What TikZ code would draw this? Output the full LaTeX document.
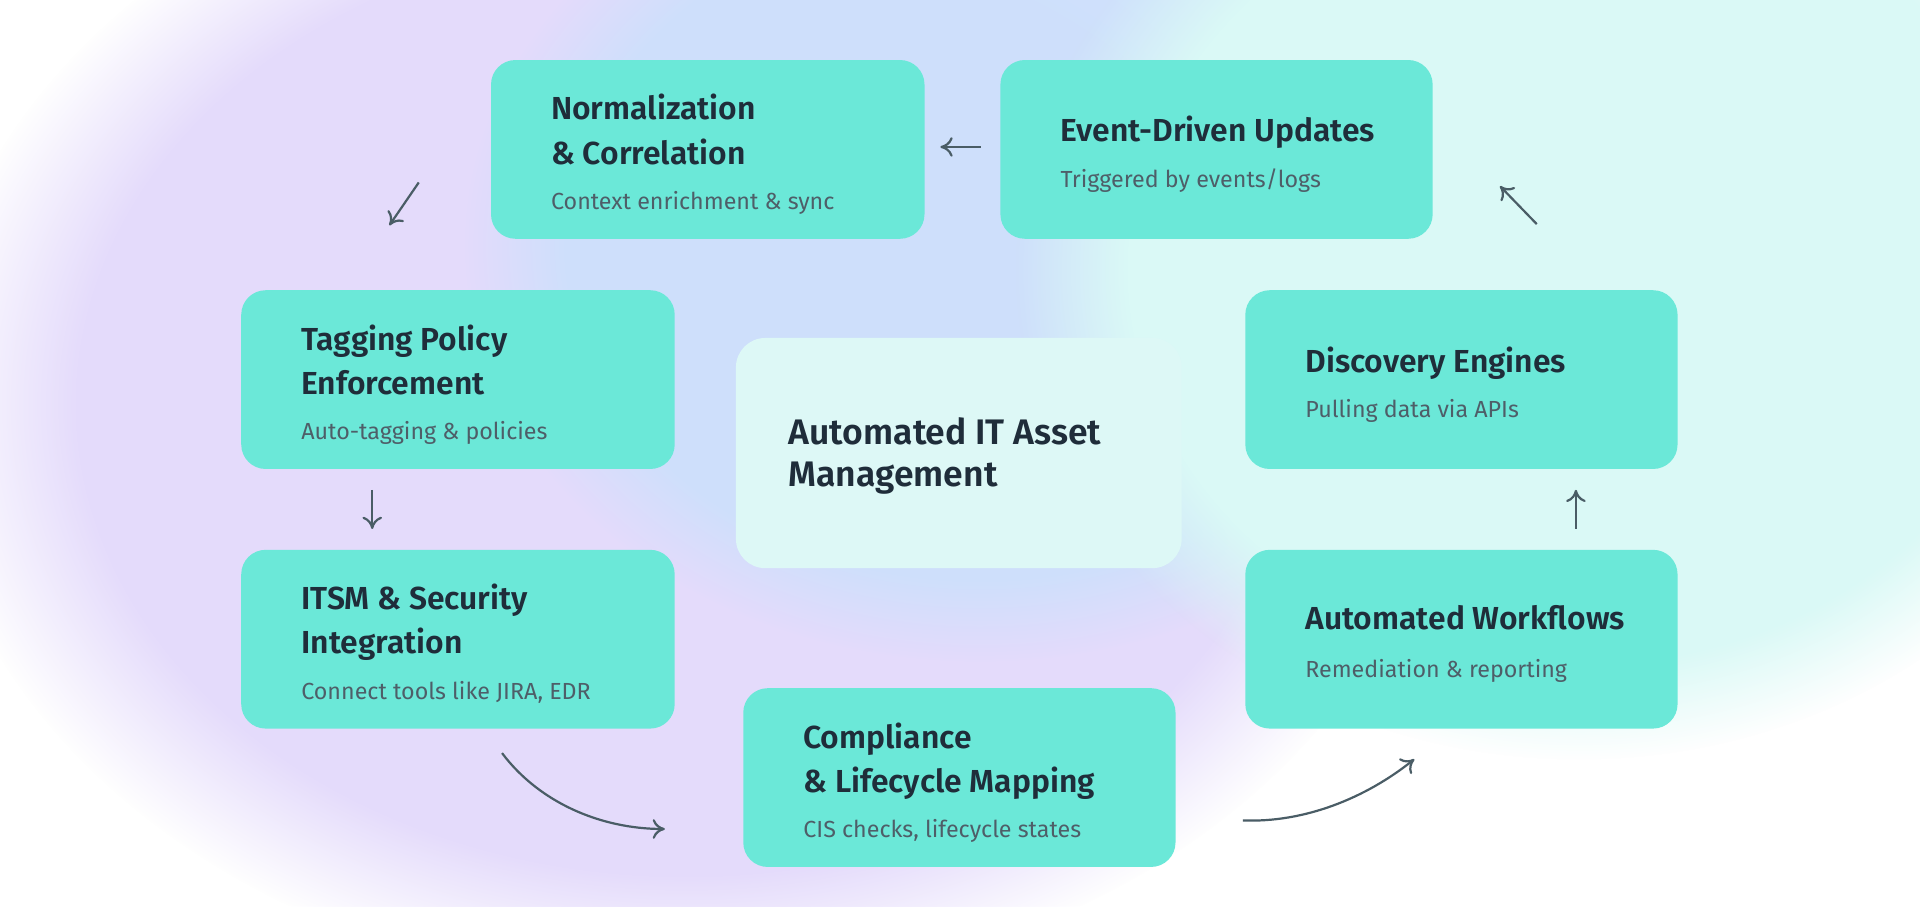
\documentclass[tikz,border=0pt]{standalone}
\usepackage{fontspec}
\setmainfont{Fira Sans}[BoldFont={Fira Sans SemiBold}]
\usetikzlibrary{fadings,arrows.meta}
\definecolor{boxc}{HTML}{6BE8D8}
\definecolor{cenc}{HTML}{DDF8F6}
\definecolor{tt}{HTML}{1F2D3A}
\definecolor{st}{HTML}{4E5E68}
\definecolor{arr}{HTML}{4A5D66}
\definecolor{lav}{HTML}{E2D8FB}
\definecolor{blu}{HTML}{CCE0FC}
\definecolor{cya}{HTML}{DAF9F6}
\begin{document}
\begin{tikzpicture}[x=0.5pt,y=-0.5pt,
  box/.style={fill=boxc,rounded corners=10pt,draw=none},
  ttl/.style={anchor=north west,align=left,text=tt,font=\fontsize{13}{18}\selectfont\bfseries},
  sub/.style={anchor=north west,text=st,font=\fontsize{9.5}{12}\selectfont},
  ar/.style={draw=arr,line width=0.9pt,-{To[length=5pt,width=8pt]}}]
\useasboundingbox (0,0) rectangle (1568,740);
\fill[white] (0,0) rectangle (1568,740);
\fill[lav,path fading=circle with fuzzy edge 20 percent,fill opacity=0.9] (560,330) ellipse [x radius=620, y radius=480];
\fill[blu,path fading=circle with fuzzy edge 20 percent,fill opacity=0.9] (800,200) ellipse [x radius=420, y radius=340];
\fill[cya,path fading=circle with fuzzy edge 20 percent] (1290,220) ellipse [x radius=460, y radius=400];
% boxes
\node[box,minimum width=177pt,minimum height=73pt] (norm) at (578,122) {};
\node[box,minimum width=176.5pt,minimum height=73pt] (evt) at (993.5,122) {};
\node[box,minimum width=177pt,minimum height=73pt] (tag) at (374,310) {};
\node[box,minimum width=176.5pt,minimum height=73pt] (disc) at (1193.5,310) {};
\node[box,minimum width=177pt,minimum height=73pt] (itsm) at (374,522) {};
\node[box,minimum width=176.5pt,minimum height=73pt] (wf) at (1193.5,522) {};
\node[box,minimum width=176.5pt,minimum height=73pt] (comp) at (783.5,635) {};
\node[fill=cenc,rounded corners=12pt,minimum width=182pt,minimum height=94pt] (cen) at (783,370) {};
% texts
\node[ttl] (t1) at (443,70) {Normalization\\\& Correlation};
\node[sub] (s1) at (443,149) {Context enrichment \& sync};
\node[ttl] (t2) at (859,88) {Event-Driven Updates};
\node[sub] (s2) at (859,131) {Triggered by events/logs};
\node[ttl] (t3) at (239,258) {Tagging Policy\\Enforcement};
\node[sub] (s3) at (239,337) {Auto-tagging \& policies};
\node[ttl] (t4) at (1059,276) {Discovery Engines};
\node[sub] (s4) at (1059,319) {Pulling data via APIs};
\node[ttl] (t5) at (239,470) {ITSM \& Security\\Integration};
\node[sub] (s5) at (239,549) {Connect tools like JIRA, EDR};
\node[ttl] (t6) at (1059,487) {Automated Workflows};
\node[sub] (s6) at (1059,531) {Remediation \& reporting};
\node[ttl] (t7) at (649,583) {Compliance\\\& Lifecycle Mapping};
\node[sub] (s7) at (649,662) {CIS checks, lifecycle states};
\node[ttl,font=\fontsize{14.5}{17}\selectfont\bfseries] (tc) at (637,334) {Automated IT Asset\\Management};
% arrows
\coordinate (a1s) at (801,120); \coordinate (a1e) at (768,120);
\coordinate (a2s) at (342,149); \coordinate (a2e) at (318,184);
\coordinate (a3s) at (304,400); \coordinate (a3e) at (304,432);
\coordinate (a4s) at (410,615); \coordinate (a4e) at (543,677);
\coordinate (a5s) at (1015,670); \coordinate (a5e) at (1155,620);
\coordinate (a6s) at (1287,432); \coordinate (a6e) at (1287,400);
\coordinate (a7s) at (1255,183); \coordinate (a7e) at (1225,152);
\draw[ar] (a1s) -- (a1e);
\draw[ar] (a2s) -- (a2e);
\draw[ar] (a3s) -- (a3e);
\draw[ar] (a4s) .. controls (440,655) and (490,677) .. (a4e);
\draw[ar] (a5s) .. controls (1065,672) and (1115,652) .. (a5e);
\draw[ar] (a6s) -- (a6e);
\draw[ar] (a7s) -- (a7e);
\end{tikzpicture}
\end{document}
